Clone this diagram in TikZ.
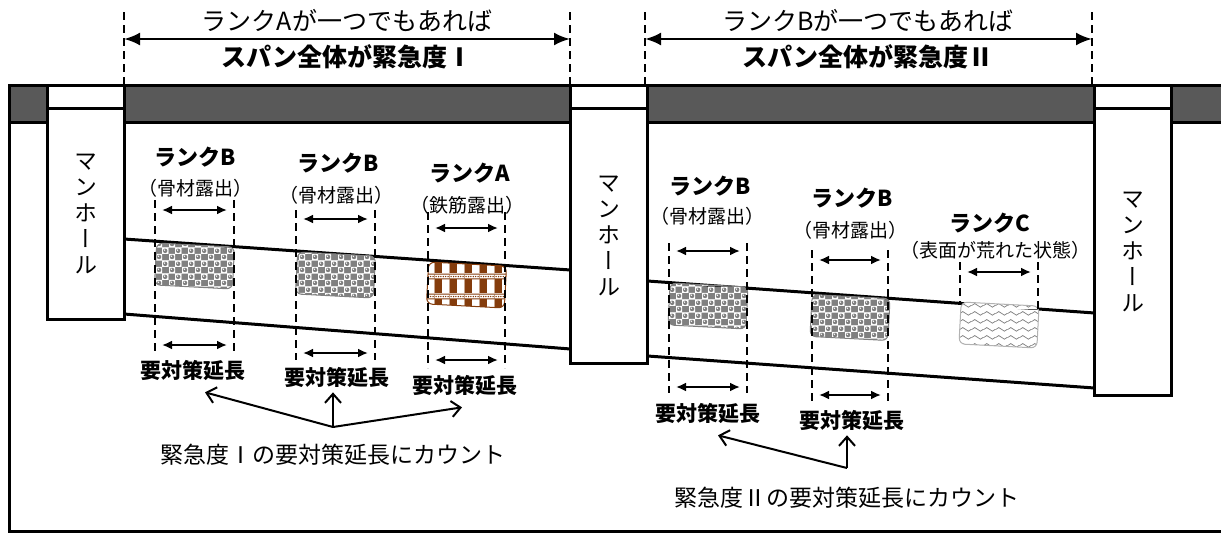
\documentclass[tikz,border=0pt]{standalone}
\usepackage{fontspec}
\setmainfont{Noto Sans CJK JP}
\newfontfamily\tate{Noto Sans CJK JP}[RawFeature=+vert]
\usetikzlibrary{arrows.meta,positioning,patterns.meta}

\definecolor{slab}{RGB}{89,89,89}
\definecolor{rust}{RGB}{132,60,12}

\tikzdeclarepattern{name=gravel, type=colored,
  bottom left={(0pt,0pt)}, top right={(13pt,13pt)}, tile size={(13pt,13pt)},
  code={
    \fill[black!50] (0pt,0pt) rectangle (13pt,13pt);
    \fill[white] (0pt,0pt) rectangle (6.5pt,6.5pt);
    \fill[white] (6.5pt,6.5pt) rectangle (13pt,13pt);
    \fill[black!50] (3.25pt,3.25pt) circle (2.4pt);
    \fill[black!50] (9.75pt,9.75pt) circle (2.4pt);
    \fill[white] (2.6pt,4pt) circle (0.8pt);
    \fill[white] (9.1pt,10.5pt) circle (0.8pt);
  }}
\tikzdeclarepattern{name=rebar, type=colored,
  bottom left={(0pt,0pt)}, top right={(15pt,20pt)}, tile size={(15pt,20pt)},
  code={
    \fill[rust] (0pt,0pt) rectangle (15pt,20pt);
    \fill[white] (7.5pt,0pt) rectangle (15pt,14pt);
    \fill[white] (0pt,15pt) rectangle (15pt,19pt);
    \foreach \i in {1.25,3.75,...,13.75} \fill[rust] (\i pt,17pt) circle (0.8pt);
  }}
\tikzdeclarepattern{name=rough, type=colored,
  bottom left={(0pt,0pt)}, top right={(12pt,8pt)}, tile size={(12pt,8pt)},
  code={
    \fill[white] (0pt,0pt) rectangle (12pt,8pt);
    \draw[gray, line width=0.8pt] (0pt,4pt) sin (3pt,6pt) cos (6pt,4pt) sin (9pt,2pt) cos (12pt,4pt);
  }}

\begin{document}
\begin{tikzpicture}[x=1pt, y=-1pt,
    manhole/.style={
% The shape:
rectangle, minimum width=77pt, inner sep=0pt, outer sep=0pt,
% The border:
      line width=3pt, draw=black, fill=white,
      % The text:
font=\tate\fontsize{23}{26}\selectfont, align=center
    },
    damage/.style={rectangle, rounded corners=6pt, minimum width=78pt,
      minimum height=42pt, rotate=-3, line width=1pt},
    pipe/.style={line width=3pt},
    guideline/.style={line width=2.3pt, dash pattern=on 8pt off 5pt},
    spanarrow/.style={<->, >={Latex[length=16pt,width=13pt]}, line width=2.5pt},
    dimarrow/.style={<->, >={Latex[length=10pt,width=9pt]}, line width=2.3pt},
    countarrow/.style={->, >={Straight Barb[length=9pt,width=16pt]}, line width=2pt},
    noteline/.style={inner sep=1pt, font=\fontsize{25}{30}\selectfont},
    headline/.style={inner sep=1pt, font=\bfseries\fontsize{25}{30}\selectfont},
    ranklabel/.style={inner sep=1pt, font=\bfseries\fontsize{22}{26}\selectfont},
    causelabel/.style={inner sep=1pt, font=\fontsize{19}{23}\selectfont},
    lenlabel/.style={inner sep=1pt, font=\bfseries\fontsize{21}{25}\selectfont},
    countlabel/.style={inner sep=1pt, font=\fontsize{23}{27}\selectfont}]
  \useasboundingbox (0,0) rectangle (1221,533);

  % ground and slab
  \draw[line width=3pt] (9,85) -- (9,531.5) -- (1230,531.5);
  \draw[line width=3pt, fill=slab] (9,85) rectangle (1230,122);

  % manholes
  \node[manhole, minimum height=211pt] (m1) at (85.5,213.5) {マ\\ン\\ホ\\ー\\ル};
  \node[manhole, minimum height=255pt] (m2) at (609,235.5) {マ\\ン\\ホ\\ー\\ル};
  \node[manhole, minimum height=287pt] (m3) at (1133,251.5) {マ\\ン\\ホ\\ー\\ル};
  \node[manhole, minimum height=23pt, above=0pt of m1] (lid1) {};
  \node[manhole, minimum height=23pt, above=0pt of m2] (lid2) {};
  \node[manhole, minimum height=23pt, above=0pt of m3] (lid3) {};

  % pipe
  \draw[pipe] (m1.east |- 0,239) -- (m2.west |- 0,270);
  \draw[pipe] (m1.east |- 0,314) -- (m2.west |- 0,349);
  \draw[pipe] (m2.east |- 0,281) -- (m3.west |- 0,313);
  \draw[pipe] (m2.east |- 0,356) -- (m3.west |- 0,388);

  % damages
  \node[damage, pattern=gravel, draw=gray] (p1) at (194.5,266) {};
  \node[damage, pattern=gravel, draw=gray] (p2) at (335.5,275) {};
  \node[damage, pattern=rebar, draw=rust] (p3) at (466.5,285) {};
  \node[damage, pattern=gravel, draw=gray] (p4) at (708,306) {};
  \node[damage, pattern=gravel, draw=gray] (p5) at (850,317.5) {};
  \node[damage, pattern=rough, draw=gray!60] (p6) at (999,325) {};

  % spans
  \draw[guideline] (124,12) -- (124,85) (570,12) -- (570,85);
  \draw[guideline] (645,12) -- (645,85) (1092,12) -- (1092,85);
  \draw[spanarrow] (124,39) -- (570,39);
  \draw[spanarrow] (645,39) -- (1092,39);
  \node[noteline] (s1) at (347,21) {ランクAが一つでもあれば};
  \node[headline] (h1) at (347,57) {スパン全体が緊急度Ⅰ};
  \node[noteline] (s2) at (868,21) {ランクBが一つでもあれば};
  \node[headline] (h2) at (868,57) {スパン全体が緊急度Ⅱ};

  % extents
  \foreach \xl/\xr/\top/\bot/\ya/\yb in {155/234/200/353/210/345, 296/375/210/360/219/353,
      428/505/212/368/228/360, 669/747/243/393/251/387, 812/888/250/405/260/395}{
    \draw[guideline] (\xl,\top) -- (\xl,\bot) (\xr,\top) -- (\xr,\bot);
    \draw[dimarrow] (\xl+7,\ya) -- (\xr-7,\ya);
    \draw[dimarrow] (\xl+7,\yb) -- (\xr-7,\yb);
  }
  \draw[guideline] (960,262) -- (960,303) (1038,262) -- (1038,309);
  \draw[dimarrow] (967,272) -- (1031,272);

  % labels
  \node[ranklabel] (r1) at (195,157) {ランクB};
  \node[causelabel] (c1) at (195,188) {（骨材露出）};
  \node[ranklabel] (r2) at (338,163) {ランクB};
  \node[causelabel] (c2) at (336,195) {（骨材露出）};
  \node[ranklabel] (r3) at (470,173) {ランクA};
  \node[causelabel] (c3) at (467,205) {（鉄筋露出）};
  \node[ranklabel] (r4) at (710,186) {ランクB};
  \node[causelabel] (c4) at (707,216) {（骨材露出）};
  \node[ranklabel] (r5) at (852,198) {ランクB};
  \node[causelabel] (c5) at (850,230) {（骨材露出）};
  \node[ranklabel] (r6) at (990,223) {ランクC};
  \node[causelabel] (c6) at (995,250) {（表面が荒れた状態）};

  \node[lenlabel] (len1) at (193,370) {要対策延長};
  \node[lenlabel] (len2) at (337,377) {要対策延長};
  \node[lenlabel] (len3) at (465,385) {要対策延長};
  \node[lenlabel] (len4) at (708,413) {要対策延長};
  \node[lenlabel] (len5) at (852,420) {要対策延長};

  % counting
  \node[countlabel] (cnt1) at (333,455) {緊急度Ⅰの要対策延長にカウント};
  \node[countlabel] (cnt2) at (847,498) {緊急度Ⅱの要対策延長にカウント};
  \coordinate (o1) at ([yshift=28pt]cnt1.center);
  \coordinate (o2) at ([yshift=30pt]cnt2.center);
  \draw[countarrow] (o1) -- ([shift={(12pt,-11pt)}]len1.south);
  \draw[countarrow, shorten >=4pt] (o1) -- (o1 |- len2.south);
  \draw[countarrow] (o1) -- ([shift={(-3pt,-11pt)}]len3.south);
  \draw[countarrow] (o2) -- ([shift={(10pt,-11pt)}]len4.south);
  \draw[countarrow, shorten >=4pt] (o2) -- (o2 |- len5.south);
\end{tikzpicture}
\end{document}
